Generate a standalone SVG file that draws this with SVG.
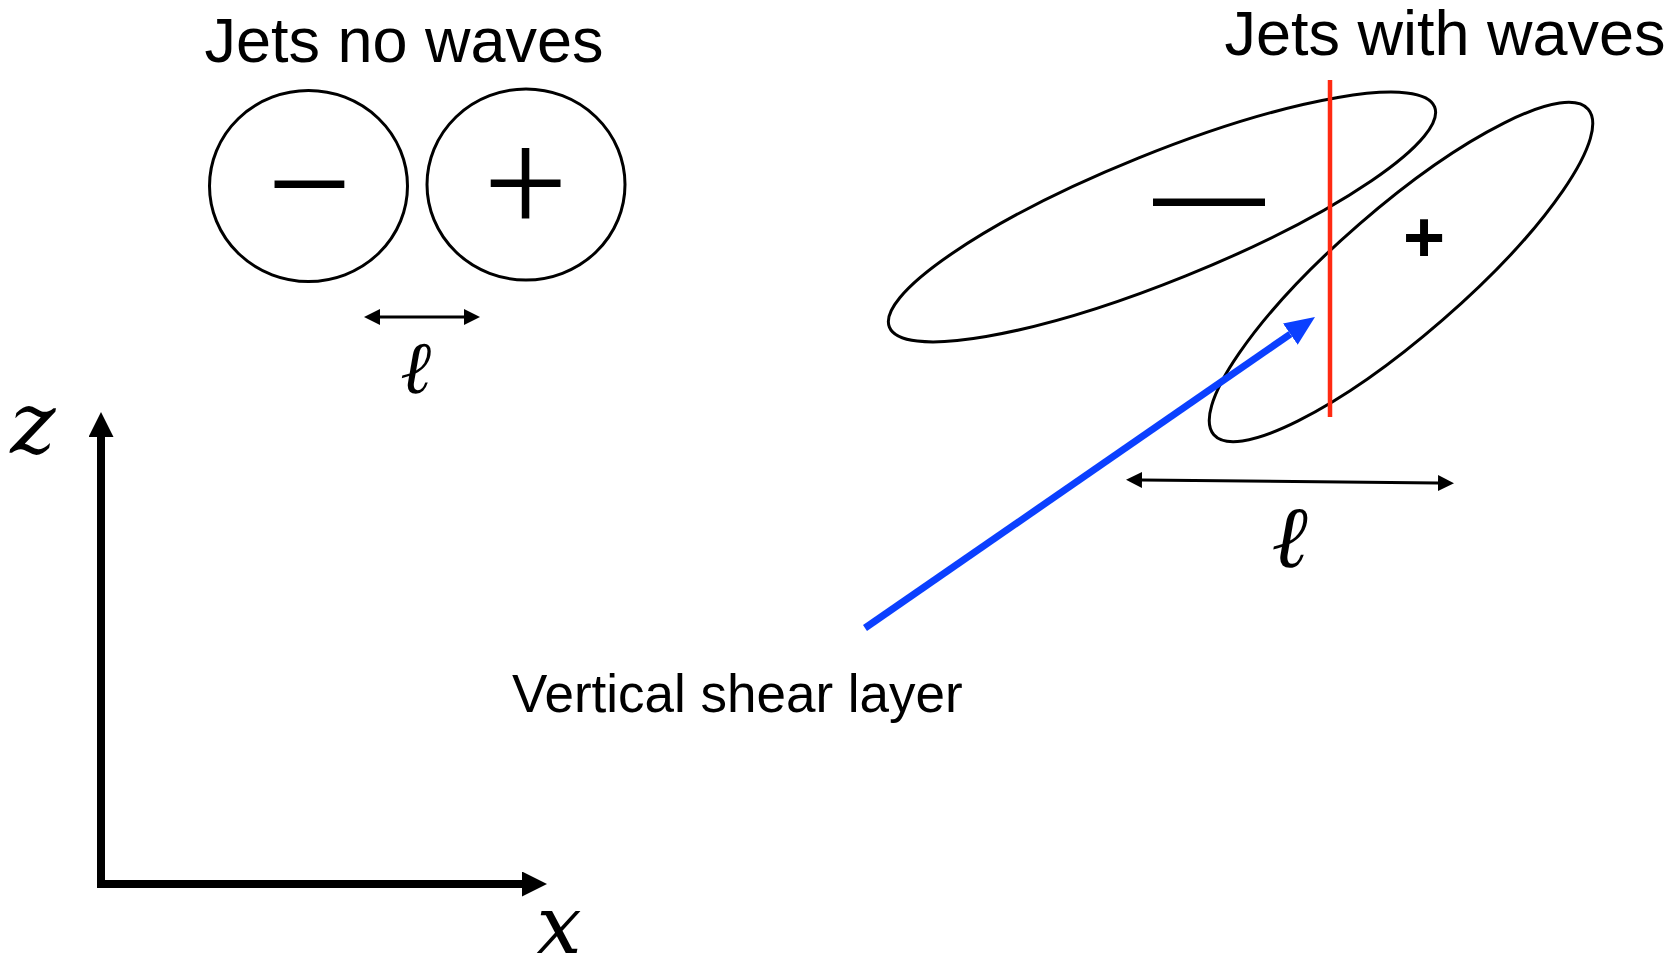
<svg xmlns="http://www.w3.org/2000/svg" width="1673" height="973" viewBox="0 0 1673 973">
<style>
.title{font-family:"Liberation Sans",Arial,sans-serif;font-size:63px;fill:#000}
.label{font-family:"Liberation Sans",Arial,sans-serif;font-size:53px;fill:#000}
.math{font-family:"DejaVu Serif",serif;font-style:italic;fill:#000}
.sign{font-family:"Liberation Serif","Times New Roman",serif;font-size:150px;fill:#000}
.vort{fill:none;stroke:#000;stroke-width:3}
.dim{fill:none;stroke:#000;stroke-width:3}
.axis{fill:none;stroke:#000;stroke-width:8;stroke-linejoin:miter}
</style>
<defs>
<marker id="dimHead" markerUnits="userSpaceOnUse" markerWidth="17" markerHeight="17" refX="0" refY="8" orient="auto-start-reverse" viewBox="0 0 17 17">
<path d="M0,0 L16,8 L0,16 z" fill="#000"/>
</marker>
<marker id="axisHead" markerUnits="userSpaceOnUse" markerWidth="26" markerHeight="26" refX="0" refY="12.5" orient="auto" viewBox="0 0 26 26">
<path d="M0,0 L25,12.5 L0,25 z" fill="#000"/>
</marker>
<marker id="blueHead" markerUnits="userSpaceOnUse" markerWidth="31" markerHeight="27" refX="0" refY="13" orient="auto" viewBox="0 0 31 27">
<path d="M0,0 L30,13 L0,26 z" fill="#0b40ff"/>
</marker>
</defs>

<g id="title-no-waves"><text class="title" x="404" y="62" text-anchor="middle">Jets no waves</text></g>
<g id="title-with-waves"><text class="title" x="1445" y="55" text-anchor="middle">Jets with waves</text></g>

<g id="jet-minus-circle">
<ellipse class="vort" cx="308.5" cy="186" rx="99" ry="95.5"/>
<text class="sign" x="309.5" y="234" text-anchor="middle">−</text>
</g>
<g id="jet-plus-circle">
<ellipse class="vort" cx="526" cy="184.5" rx="99" ry="95.5"/>
<text class="sign" x="525.5" y="233" text-anchor="middle">+</text>
</g>

<g id="jet-minus-tilted">
<ellipse class="vort" cx="1162" cy="217" rx="294" ry="63.5" transform="rotate(-22 1162 217)"/>
<text x="1209" y="231" text-anchor="middle" style="font-family:'Liberation Sans',Arial,sans-serif;font-size:112px">—</text>
</g>
<g id="jet-plus-tilted">
<ellipse class="vort" cx="1401" cy="272" rx="248" ry="63.5" transform="rotate(-41 1401 272)"/>
<text x="1424" y="262" text-anchor="middle" style="font-family:'Liberation Sans',Arial,sans-serif;font-weight:bold;font-size:72px">+</text>
</g>

<g id="label-ell-left"><text class="math" x="416" y="393" text-anchor="middle" font-size="74">ℓ</text></g>
<g id="label-ell-right"><text class="math" x="1289.5" y="567" text-anchor="middle" font-size="87">ℓ</text></g>
<g id="label-z"><text class="math" x="33" y="453" text-anchor="middle" font-size="86">z</text></g>
<g id="label-x"><text class="math" x="559" y="953" text-anchor="middle" font-size="80">x</text></g>
<g id="label-shear"><text class="label" x="512" y="712">Vertical shear layer</text></g>

<g id="connectors">
<line class="dim" x1="380" y1="317" x2="464" y2="317" marker-start="url(#dimHead)" marker-end="url(#dimHead)"/>
<line class="dim" x1="1142" y1="480" x2="1438" y2="483" marker-start="url(#dimHead)" marker-end="url(#dimHead)"/>
<line x1="1330" y1="80" x2="1330" y2="417" stroke="#ff2a12" stroke-width="4.5"/>
<line x1="865" y1="628" x2="1290.3" y2="334.1" stroke="#0b40ff" stroke-width="7" marker-end="url(#blueHead)"/>
<polyline class="axis" points="101,437 101,884 522,884" marker-end="url(#axisHead)"/>
<line x1="101" y1="884" x2="101" y2="437" stroke="#000" stroke-width="8" marker-end="url(#axisHead)"/>
</g>
</svg>
